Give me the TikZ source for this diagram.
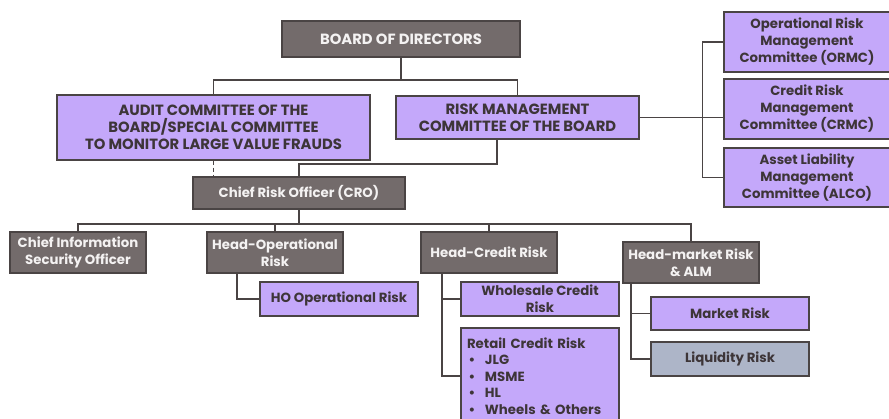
\documentclass[tikz,border=0pt]{standalone}
\usepackage{fontspec}
\setmainfont{Poppins}
\definecolor{gfill}{HTML}{736B6B}
\definecolor{pfill}{HTML}{C4A8FA}
\definecolor{bfill}{HTML}{ADB5C8}
\definecolor{edge}{HTML}{4A4444}
\definecolor{dtext}{HTML}{3D3538}
\definecolor{wtext}{HTML}{F4F2F2}
\begin{document}
\begin{tikzpicture}[x=1pt,y=-1pt,
  box/.style={draw=edge,line width=1.2pt,rectangle,inner sep=0pt,align=center,
    font=\fontsize{13.3}{17}\selectfont\bfseries},
  caps/.style={font=\fontsize{14.8}{17}\selectfont\bfseries},
  gbox/.style={box,fill=gfill,text=wtext},
  pbox/.style={box,fill=pfill,text=dtext},
  bbox/.style={box,fill=bfill,text=dtext},
  conn/.style={draw=edge,line width=1.3pt}]
\useasboundingbox (0,0) rectangle (889,418);
\begin{scope}
\clip (0,0) rectangle (889,418);
% nodes
\node[gbox,caps,minimum width=238,minimum height=36] (board) at (401,39) {BOARD OF DIRECTORS};
\node[pbox,caps,minimum width=313,minimum height=65] (audit) at (213.5,127.5) {AUDIT COMMITTEE OF THE\\BOARD/SPECIAL COMMITTEE\\TO MONITOR LARGE VALUE FRAUDS};
\node[pbox,caps,minimum width=243,minimum height=43] (rmc) at (517.5,117.5) {RISK MANAGEMENT\\COMMITTEE OF THE BOARD};
\node[pbox,minimum width=166,minimum height=60] (ormc) at (807,42) {Operational Risk\\Management\\Committee (ORMC)};
\node[pbox,minimum width=166,minimum height=60] (crmc) at (807,109) {Credit Risk\\Management\\Committee (CRMC)};
\node[pbox,minimum width=166,minimum height=59] (alco) at (807,177.5) {Asset Liability\\Management\\Committee (ALCO)};
\node[gbox,minimum width=212,minimum height=32] (cro) at (299,193) {Chief Risk Officer (CRO)};
\node[gbox,minimum width=136,minimum height=41] (ciso) at (78,252.5) {Chief Information\\Security Officer};
\node[gbox,minimum width=136,minimum height=41] (headop) at (275,252.5) {Head-Operational\\Risk};
\node[pbox,minimum width=158,minimum height=34] (hoop) at (339,299) {HO Operational Risk};
\node[gbox,minimum width=136,minimum height=41] (headcr) at (489,252.5) {Head-Credit Risk};
\node[pbox,minimum width=158,minimum height=34] (whole) at (540,299) {Wholesale Credit\\Risk};
\node[pbox,minimum width=158,minimum height=96,text width=146,inner xsep=6pt,align=left,
  font=\fontsize{13.3}{16.6}\selectfont\bfseries] (retail) at (540,376) {Retail Credit Risk\\
\makebox[18pt][l]{\hspace*{1.5pt}•}JLG\\
\makebox[18pt][l]{\hspace*{1.5pt}•}MSME\\
\makebox[18pt][l]{\hspace*{1.5pt}•}HL\\
\makebox[18pt][l]{\hspace*{1.5pt}•}Wheels \& Others};
\node[gbox,minimum width=136,minimum height=41] (headmk) at (691,262.5) {Head-market Risk\\\& ALM};
\node[pbox,minimum width=158,minimum height=33] (market) at (730,313.5) {Market Risk};
\node[bbox,minimum width=158,minimum height=34] (liq) at (730,359) {Liquidity Risk};
\end{scope}
% connectors
\draw[conn] (board.south) -- (board.south |- 0,80);
\draw[conn] (audit.north) |- (rmc.north |- 0,80) -- (rmc.north);
\draw[conn,dashed,dash pattern=on 4pt off 3pt] (audit.south) -- (audit.south |- cro.north);
\draw[conn] (rmc.south -| 497,0) |- (cro.north |- 0,164) -- (cro.north);
\draw[conn] (rmc.east) -- (rmc.east -| crmc.west);
\draw[conn] (ormc.west) -- ++(-21,0) |- (alco.west);
\draw[conn] (cro.south) -- (cro.south |- 0,224);
\draw[conn] (ciso.north) |- (headmk.north |- 0,224) -- (headmk.north);
\draw[conn] (headop.north) -- (headop.north |- 0,224);
\draw[conn] (headcr.north) -- (headcr.north |- 0,224);
\draw[conn] (headop.south -| 237,0) |- (hoop.west);
\draw[conn] (headcr.south -| 442,0) |- (retail.west);
\draw[conn] (whole.west) -- (whole.west -| 442,0);
\draw[conn] (headmk.south -| 631,0) |- (liq.west);
\draw[conn] (market.west) -- (market.west -| 631,0);
\end{tikzpicture}
\end{document}
